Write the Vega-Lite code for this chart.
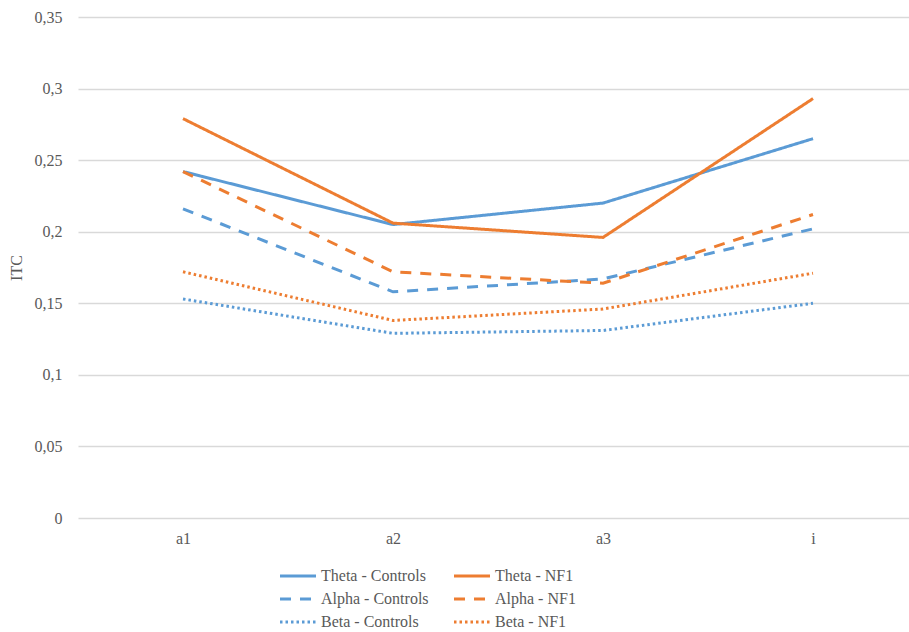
{
  "$schema": "https://vega.github.io/schema/vega-lite/v6.json",
  "width": 840,
  "height": 501,
  "autosize": {"type": "none"},
  "padding": {"left": 78, "top": 17, "right": 0, "bottom": 114},
  "background": "white",
  "config": {
    "view": {"stroke": null},
    "font": "'Liberation Serif', 'Times New Roman', serif",
    "axis": {"labelFont": "'Liberation Serif', 'Times New Roman', serif", "titleFont": "'Liberation Serif', 'Times New Roman', serif", "labelColor": "#595959", "titleColor": "#595959", "labelFontSize": 16, "titleFontSize": 16, "titleFontWeight": "normal"},
    "legend": {"labelFont": "'Liberation Serif', 'Times New Roman', serif", "labelFontSize": 16, "labelColor": "#595959"}
  },
  "data": {
    "values": [
      {"cond": "a1", "series": "Theta - Controls", "itc": 0.242},
      {"cond": "a2", "series": "Theta - Controls", "itc": 0.205},
      {"cond": "a3", "series": "Theta - Controls", "itc": 0.220},
      {"cond": "i", "series": "Theta - Controls", "itc": 0.265},
      {"cond": "a1", "series": "Theta - NF1", "itc": 0.279},
      {"cond": "a2", "series": "Theta - NF1", "itc": 0.206},
      {"cond": "a3", "series": "Theta - NF1", "itc": 0.196},
      {"cond": "i", "series": "Theta - NF1", "itc": 0.293},
      {"cond": "a1", "series": "Alpha - Controls", "itc": 0.216},
      {"cond": "a2", "series": "Alpha - Controls", "itc": 0.158},
      {"cond": "a3", "series": "Alpha - Controls", "itc": 0.167},
      {"cond": "i", "series": "Alpha - Controls", "itc": 0.202},
      {"cond": "a1", "series": "Alpha - NF1", "itc": 0.242},
      {"cond": "a2", "series": "Alpha - NF1", "itc": 0.172},
      {"cond": "a3", "series": "Alpha - NF1", "itc": 0.164},
      {"cond": "i", "series": "Alpha - NF1", "itc": 0.212},
      {"cond": "a1", "series": "Beta - Controls", "itc": 0.153},
      {"cond": "a2", "series": "Beta - Controls", "itc": 0.129},
      {"cond": "a3", "series": "Beta - Controls", "itc": 0.131},
      {"cond": "i", "series": "Beta - Controls", "itc": 0.150},
      {"cond": "a1", "series": "Beta - NF1", "itc": 0.172},
      {"cond": "a2", "series": "Beta - NF1", "itc": 0.138},
      {"cond": "a3", "series": "Beta - NF1", "itc": 0.146},
      {"cond": "i", "series": "Beta - NF1", "itc": 0.171}
    ]
  },
  "mark": {"type": "line", "strokeWidth": 3, "strokeCap": "butt"},
  "encoding": {
    "x": {
      "field": "cond", "type": "nominal", "sort": ["a1", "a2", "a3", "i"],
      "scale": {"type": "point", "padding": 0.5},
      "axis": {"title": null, "labelAngle": 0, "ticks": false, "domain": false, "labelPadding": 12, "grid": false}
    },
    "y": {
      "field": "itc", "type": "quantitative",
      "scale": {"domain": [0, 0.35], "nice": false},
      "axis": {"title": "ITC", "values": [0, 0.05, 0.1, 0.15, 0.2, 0.25, 0.3, 0.35], "labelExpr": "replace(format(datum.value, '.2~f'), '.', ',')", "ticks": false, "domain": false, "gridColor": "#d9d9d9", "gridWidth": 1.3, "labelPadding": 16, "titlePadding": 10}
    },
    "color": {
      "field": "series", "type": "nominal",
      "scale": {
        "domain": ["Theta - Controls", "Alpha - Controls", "Beta - Controls", "Theta - NF1", "Alpha - NF1", "Beta - NF1"],
        "range": ["#5B9BD5", "#5B9BD5", "#5B9BD5", "#ED7D31", "#ED7D31", "#ED7D31"]
      },
      "legend": {
        "title": null, "orient": "none", "legendX": 212, "legendY": 551, "columns": 2, "columnPadding": 19, "rowPadding": 7,
        "symbolType": "M-3,0H3", "symbolSize": 144, "symbolStrokeWidth": 3, "labelOffset": 15,
        "labelFont": "'Liberation Serif', 'Times New Roman', serif", "labelFontSize": 16, "labelColor": "#595959"
      }
    },
    "strokeDash": {
      "field": "series", "type": "nominal",
      "scale": {
        "domain": ["Theta - Controls", "Alpha - Controls", "Beta - Controls", "Theta - NF1", "Alpha - NF1", "Beta - NF1"],
        "range": [[1, 0], [11, 9], [2.5, 3], [1, 0], [11, 9], [2.5, 3]]
      }
    }
  }
}
